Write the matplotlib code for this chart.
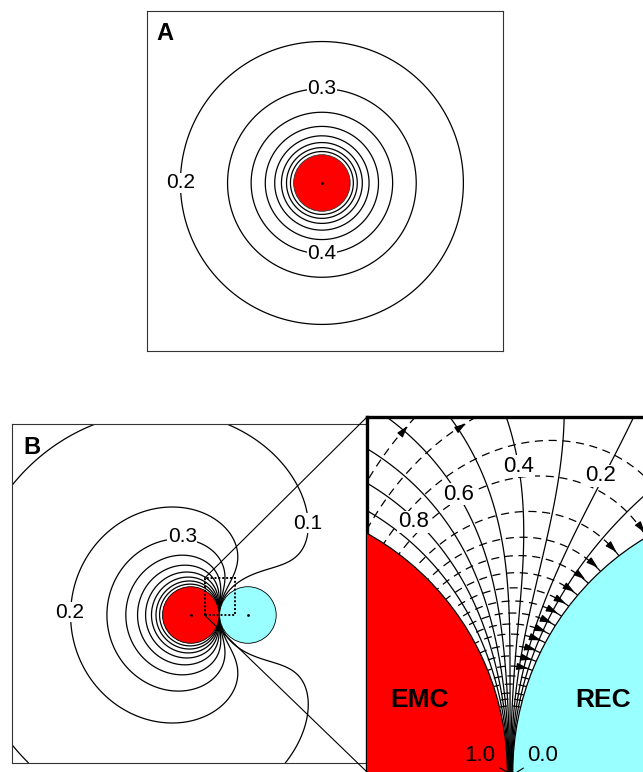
import numpy as np
import matplotlib
matplotlib.use("Agg")
import matplotlib.pyplot as plt
from matplotlib.patches import Circle, Rectangle, ConnectionPatch
from matplotlib.path import Path

plt.rcParams["font.family"] = ["Liberation Sans", "DejaVu Sans"]

# geometry, in units of the cell radius
RADIUS = 1.0
GAP = 0.02
EMC_X = -(RADIUS + GAP / 2)
REC_X = RADIUS + GAP / 2

# concentration levels drawn as solid contours
LEVELS_A = [0.2, 0.3, 0.4, 0.5, 0.6, 0.7, 0.8, 0.9]
LEVELS_B = [0.1, 0.2, 0.3, 0.4, 0.5, 0.6, 0.7, 0.8, 0.9]
LEVELS_ZOOM = [0.1, 0.2, 0.3, 0.4, 0.5, 0.6, 0.7, 0.8, 0.9]

# flux lines of the magnified view: height where each one crosses the mid-plane,
# plus two lines in the upper left that leave the view upwards
FLUX_MIDPLANE_Y = [1.194, 1.073, 0.949, 0.857, 0.791, 0.729, 0.674, 0.626, 0.582,
                   0.542, 0.505, 0.462, 0.425, 0.388, 0.352, 0.322, 0.289, 0.267, 0.242]
FLUX_EXTRA_PTS = [(-0.40, 1.24), (-0.27, 1.20)]

# window of panel B shown in the magnified view
ZOOM_X = (-0.524, 0.555)
ZOOM_Y = (0.0, 1.30)

A_XLIM, A_YLIM = (-6.18, 6.40), (-5.94, 6.08)
B_XLIM, B_YLIM = (-7.33, 5.22), (-5.23, 6.75)

W, H = 643, 772
RED = "#ff0000"
CYAN = "#99ffff"


def image_charges(n_max=2000):
    # point charges that keep EMC at 1 and REC at 0
    qs, xs = [RADIUS], [EMC_X]
    centers = [EMC_X, REC_X]
    side = 1
    for _ in range(n_max):
        d = xs[-1] - centers[side]
        qs.append(-qs[-1] * RADIUS / abs(d))
        xs.append(centers[side] + RADIUS ** 2 / d)
        side = 1 - side
        if abs(qs[-1]) < 1e-9:
            break
    return np.array(qs), np.array(xs)


QS, XS = image_charges()


def field(x, y, mask=True):
    x = np.asarray(x, float)
    y = np.asarray(y, float)
    rho = np.abs(y)
    c = np.zeros(np.broadcast(x, y).shape)
    psi = np.zeros_like(c)
    with np.errstate(divide="ignore", invalid="ignore"):
        for q, xq in zip(QS, XS):
            dx = x - xq
            r = np.sqrt(dx * dx + rho * rho)
            c = c + q / r
            psi = psi + q * dx / r
    if mask:
        inside = ((x - EMC_X) ** 2 + y ** 2 < RADIUS ** 2) | ((x - REC_X) ** 2 + y ** 2 < RADIUS ** 2)
        c = np.where(inside, np.nan, c)
        psi = np.where(inside, np.nan, psi)
    return c, psi


def px_axes(left, top, right, bottom):
    return fig.add_axes([left / W, 1 - bottom / H, (right - left) / W, (bottom - top) / H])


def style_box(ax, lw=0.8, color="#333333"):
    ax.set_xticks([])
    ax.set_yticks([])
    for s in ax.spines.values():
        s.set_linewidth(lw)
        s.set_color(color)


def label(ax, x, y, s, size=15):
    ax.text(x, y, s, fontsize=size, ha="center", va="center", zorder=6,
            bbox=dict(fc="white", ec="none", pad=0.5))


def draw_arrowhead(ax, p0, p1, size=8):
    ang = np.arctan2(p1[1] - p0[1], p1[0] - p0[0])
    tri = np.array([[1.0, 0.0], [-0.8, 0.55], [-0.8, -0.55]])
    rot = np.array([[np.cos(ang), -np.sin(ang)], [np.sin(ang), np.cos(ang)]])
    ax.plot(p1[0], p1[1], marker=tri @ rot.T, ms=size, color="k", mec="k", zorder=5)


def split_path(path):
    if path.codes is None:
        return [path.vertices]
    starts = np.flatnonzero(path.codes == Path.MOVETO)
    return [s for s in np.split(path.vertices, starts[1:]) if len(s) > 1]


def flux_arrows(ax, cs):
    # one arrowhead per flux line: just before it reaches REC, or before it leaves the view upwards
    for path in cs.get_paths():
        for seg in split_path(path):
            if len(seg) < 6:
                continue
            c0, _ = field(*seg[0], mask=False)
            c1, _ = field(*seg[-1], mask=False)
            if c0 < c1:
                seg = seg[::-1]
            d_rec = np.hypot(seg[:, 0] - REC_X, seg[:, 1]) - RADIUS
            if d_rec[-1] < 0.02:
                k = int(np.argmax(d_rec < 0.045))
                if seg[k, 1] < 0.38:
                    continue
            elif seg[-1, 1] > ZOOM_Y[1] - 0.02:
                arc = np.concatenate([[0], np.cumsum(np.hypot(*np.diff(seg, axis=0).T))])
                k = int(np.argmax(arc[-1] - arc < 0.07))
            else:
                continue
            k = min(max(k, 3), len(seg) - 1)
            draw_arrowhead(ax, seg[k - 3], seg[k])


fig = plt.figure(figsize=(W / 100, H / 100), dpi=100)

# ---------------- panel A: single emitting cell ----------------
axA = px_axes(147, 11, 503, 351)
xa = np.linspace(*A_XLIM, 500)
ya = np.linspace(*A_YLIM, 500)
XA, YA = np.meshgrid(xa, ya)
with np.errstate(divide="ignore"):
    CA = RADIUS / np.hypot(XA, YA)
CA[np.hypot(XA, YA) < RADIUS] = np.nan
axA.contour(XA, YA, CA, levels=LEVELS_A, colors="k", linewidths=0.9)
axA.add_patch(Circle((0, 0), RADIUS, fc=RED, ec="#333333", lw=0.6, zorder=4))
axA.plot(0, 0, "k.", ms=2, zorder=5)
label(axA, 0.0, 3.33, "0.3")
label(axA, -5.0, 0.0, "0.2")
label(axA, 0.0, -2.5, "0.4")
axA.text(0.05, 0.935, "A", transform=axA.transAxes, fontsize=17, fontweight="bold",
         ha="center", va="center")
axA.set_xlim(A_XLIM)
axA.set_ylim(A_YLIM)
style_box(axA)

# ---------------- panel B: emitter next to receiver ----------------
axB = px_axes(12, 424, 367, 763)
xb = np.linspace(*B_XLIM, 700)
yb = np.linspace(*B_YLIM, 700)
XB, YB = np.meshgrid(xb, yb)
CB, _ = field(XB, YB)
axB.contour(XB, YB, CB, levels=LEVELS_B, colors="k", linewidths=0.9)
axB.add_patch(Circle((EMC_X, 0), RADIUS, fc=RED, ec="k", lw=0.6, zorder=4))
axB.add_patch(Circle((REC_X, 0), RADIUS, fc=CYAN, ec="k", lw=0.6, zorder=4))
axB.plot([EMC_X, REC_X], [0, 0], "k.", ms=2, zorder=5)
axB.add_patch(Rectangle((ZOOM_X[0], ZOOM_Y[0]), ZOOM_X[1] - ZOOM_X[0], ZOOM_Y[1] - ZOOM_Y[0],
                        fill=False, ec="k", lw=1.4, ls=(0, (1, 1)), zorder=5))
label(axB, -5.28, 0.1, "0.2")
label(axB, -1.31, 2.76, "0.3")
label(axB, 3.14, 3.25, "0.1")
axB.text(0.056, 0.932, "B", transform=axB.transAxes, fontsize=17, fontweight="bold",
         ha="center", va="center")
axB.set_xlim(B_XLIM)
axB.set_ylim(B_YLIM)
style_box(axB)

# ---------------- magnified contact region ----------------
scale = 273.0  # pixels per cell radius in the magnified view
axZ = px_axes(367, 417, 367 + scale * (ZOOM_X[1] - ZOOM_X[0]), 772)
xz = np.linspace(ZOOM_X[0], ZOOM_X[1], 800)
yz = np.linspace(ZOOM_Y[0], ZOOM_Y[1], 900)
XZ, YZ = np.meshgrid(xz, yz)
CZ, PZ = field(XZ, YZ)
axZ.contour(XZ, YZ, CZ, levels=LEVELS_ZOOM, colors="k", linewidths=0.9)

flux_x = [0.0] * len(FLUX_MIDPLANE_Y) + [p[0] for p in FLUX_EXTRA_PTS]
flux_y = list(FLUX_MIDPLANE_Y) + [p[1] for p in FLUX_EXTRA_PTS]
_, flux_levels = field(flux_x, flux_y, mask=False)
csf = axZ.contour(XZ, YZ, PZ, levels=np.unique(flux_levels), colors="k", linewidths=0.9,
                  linestyles=[(0, (6.5, 4.5))])
flux_arrows(axZ, csf)

axZ.add_patch(Circle((EMC_X, 0), RADIUS, fc=RED, ec="k", lw=0.9, zorder=4))
axZ.add_patch(Circle((REC_X, 0), RADIUS, fc=CYAN, ec="k", lw=0.9, zorder=4))

axZ.text(-0.33, 0.264, "EMC", fontsize=19, fontweight="bold", ha="center", va="center", zorder=6)
axZ.text(0.34, 0.264, "REC", fontsize=19, fontweight="bold", ha="center", va="center", zorder=6)
label(axZ, -0.355, 0.916, "0.8", 16)
label(axZ, -0.19, 1.018, "0.6", 16)
label(axZ, 0.033, 1.12, "0.4", 16)
label(axZ, 0.333, 1.084, "0.2", 16)
axZ.annotate("1.0", xy=(-0.012, 0.0), xytext=(-0.11, 0.059), fontsize=16, ha="center",
             va="center", zorder=6, arrowprops=dict(arrowstyle="-", lw=0.8, shrinkA=1, shrinkB=0))
axZ.annotate("0.0", xy=(0.026, 0.0), xytext=(0.12, 0.059), fontsize=16, ha="center",
             va="center", zorder=6, arrowprops=dict(arrowstyle="-", lw=0.8, shrinkA=1, shrinkB=0))
axZ.set_xlim(ZOOM_X)
axZ.set_ylim(ZOOM_Y)
style_box(axZ, lw=2.4, color="k")
axZ.spines["bottom"].set_visible(False)

# lines joining the dotted window in B to the magnified view
for corner_y in ZOOM_Y:
    con = ConnectionPatch(xyA=(ZOOM_X[0], corner_y), coordsA=axB.transData,
                          xyB=(ZOOM_X[0], corner_y), coordsB=axZ.transData,
                          color="k", lw=0.8)
    fig.add_artist(con)

fig.savefig("out.png", dpi=100)
